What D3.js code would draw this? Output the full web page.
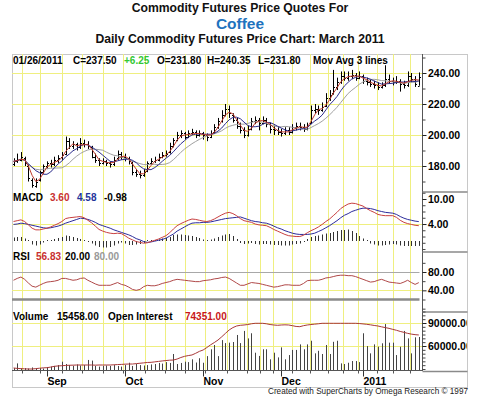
<!DOCTYPE html>
<html><head><meta charset="utf-8">
<script src="https://cdn.jsdelivr.net/npm/d3@7"></script>
<style>
body{margin:0;background:#fff}
svg{display:block}
text{font-family:Arial,"Liberation Sans",sans-serif}
</style>
</head><body>
<svg id="c" width="490" height="398"></svg>
<script>
// ---------- DATA ----------
const opens=[181,183,184,185,180,171,167,171,176,180,
182,181,184,186,188,196,193,194,192,195,
194,192,186,184,182,183,182,181,185,188,
186,185,182,176,175,174,177,182,183,184,
186,187,189,193,197,200,201,199,201,202,
200,201,200,199,202,205,209,213,217,213,
210,206,203,200,204,209,210,208,210,207,
204,203,202,201,203,202,205,206,205,204,
208,216,217,216,219,224,227,231,234,238,
237,238,239,237,238,235,234,233,232,231,
232,236,235,234,235,233,232,238,236,231.8];
const highs=[185,188,189,186,181,172,172,177,181,183,
184,186,187,189,199,198,196,195,198,197,
196,193,188,185,185,184,183,186,190,189,
188,186,183,178,177,178,183,185,186,188,
189,190,195,198,202,203,202,203,204,203,
203,202,201,203,207,211,216,220,219,214,
211,208,205,206,211,212,211,212,211,208,
206,205,204,205,205,207,208,208,207,208,
219,220,219,221,227,229,242,237,241,241,
241,242,240,241,239,237,236,235,234,234,
245,239,237,238,236,235,241,240,238,240.35];
const lows=[180,182,183,180,170,166,166,170,175,178,
179,180,182,184,187,191,191,190,191,192,
191,185,182,180,181,180,179,180,184,184,
183,181,174,173,172,173,176,181,182,183,
185,186,188,192,196,198,197,198,200,198,
199,197,196,198,201,204,208,212,211,208,
204,201,198,199,203,207,203,207,205,201,
200,200,199,200,200,201,203,203,202,203,
207,214,213,215,218,222,226,229,233,235,
235,236,235,236,233,232,231,230,229,230,
231,233,232,233,228,230,231,234,231,231.8];
const closes=[183,184,186,182,172,168,170,176,180,182,
181,184,185,187,196,193,194,192,195,194,
193,186,184,182,183,182,181,184,188,186,
185,183,176,175,174,176,182,183,184,186,
187,188,193,197,200,201,199,201,202,200,
201,200,199,201,205,209,213,217,214,210,
206,203,200,204,209,210,208,210,207,204,
203,202,201,203,202,205,206,205,204,206,
216,217,216,218,224,226,231,234,238,237,
238,239,237,238,235,234,233,232,231,232,
236,235,234,235,233,232,238,236,233,237.5];
const macd=[4.6,4.8,5.0,4.6,3.8,3.0,2.6,2.6,2.8,3.0,
3.3,3.7,4.1,4.6,5.3,5.5,5.6,5.7,5.8,5.5,
4.9,4.3,3.5,2.7,2.3,2.0,1.8,1.7,1.8,1.7,
1.2,0.6,0.2,-0.2,-0.4,-0.6,-0.5,-0.2,0.1,0.4,
0.8,1.2,1.9,2.8,3.6,4.1,4.5,4.9,5.2,5.1,
4.9,4.7,4.6,4.8,5.2,5.7,6.2,6.6,6.8,6.5,
6.0,5.3,4.8,4.6,4.4,4.0,3.8,3.7,3.6,3.2,
2.7,2.3,1.9,1.5,1.2,1.1,1.0,1.0,1.3,1.9,
2.4,2.8,3.3,3.9,4.6,5.2,6.0,6.8,7.7,8.3,
8.8,9.0,8.9,8.6,8.3,7.7,7.2,6.8,6.3,6.1,
6.0,6.0,6.0,5.6,4.9,4.4,4.1,3.9,3.7,3.6];
const signal=[3.9,4.0,4.2,4.1,3.9,3.7,3.5,3.3,3.1,3.0,
3.1,3.3,3.5,3.8,4.2,4.5,4.8,5.1,5.4,5.3,
5.1,4.8,4.4,3.9,3.6,3.3,3.0,2.6,2.3,2.0,
1.7,1.4,1.0,0.5,0.2,-0.2,-0.4,-0.3,-0.1,0.1,
0.3,0.6,1.1,1.6,2.3,2.8,3.3,3.8,4.2,4.3,
4.3,4.4,4.4,4.5,4.7,4.9,5.1,5.3,5.4,5.5,
5.6,5.7,5.4,5.1,4.8,4.6,4.5,4.3,4.2,3.9,
3.5,3.1,2.8,2.4,2.1,1.8,1.6,1.5,1.5,1.5,
1.6,1.8,2.2,2.6,3.1,3.6,4.2,4.8,5.5,6.1,
6.5,7.0,7.3,7.6,7.8,7.8,7.7,7.5,7.2,7.0,
6.8,6.7,6.6,6.3,5.8,5.4,5.1,4.9,4.7,4.58];
const rsi=[62,66,69,64,56,49,47,51,55,58,
59,60,62,66,66,64,62,63,66,67,
62,58,54,51,51,51,51,54,57,53,
51,47,42,40,42,48,51,50,50,52,
55,57,59,62,64,63,62,61,60,59,
59,61,62,63,65,66,68,69,66,61,
56,51,51,54,57,56,55,53,51,49,
47,48,50,52,52,51,51,51,55,61,
62,62,62,64,67,68,70,72,73,73,
72,72,70,67,64,61,58,59,62,64,
61,58,57,56,55,58,62,57,53,56.83];
const volume=[900,3100,700,900,700,1200,900,900,700,1400,
1600,1900,2300,3900,2800,2300,1900,2600,2100,2300,
4700,4400,1900,1600,1900,2100,1900,2300,1900,1600,
2300,3400,1900,2800,2300,2100,2300,2600,2800,3300,
3000,3700,3300,7500,2800,3300,3900,3700,5000,3500,
5500,3400,6500,9700,11700,6500,14000,12600,12800,13100,
16400,12600,18300,14800,17200,8100,6600,9700,9700,5000,
8100,5900,10600,5000,7000,9400,9400,12000,9700,12000,
13700,7800,9000,7500,11700,7500,13200,13700,3100,2800,
3400,4200,4200,3700,17200,11200,7800,12000,10900,12500,
21500,12800,12800,7000,10900,18300,14800,7800,15300,15458];
const openInterest=[31300,30800,30500,30200,30000,30000,30500,31000,31500,31700,
32500,33500,34000,34300,34600,34900,35000,35200,35200,35200,
35200,35200,35000,35200,35200,35200,35200,35500,35800,36000,
36300,36500,36500,37000,37500,38000,38500,38700,39300,39900,
40500,41000,41500,41700,43000,45000,46500,47500,48300,50500,
53000,54800,58000,61500,64500,67800,72000,76500,80900,84000,
86100,87000,87400,88000,89000,89600,89600,89600,89000,88000,
87400,87000,87400,87600,87400,86500,85500,85200,86500,87400,
88000,88500,89000,89600,89600,89600,89600,89600,89600,89600,
89600,89600,89600,89300,88800,88300,87600,86800,86100,85000,
84000,83000,81700,80500,79000,77800,76500,75500,74800,74351];

const monthLabels=["Sep","Oct","Nov","Dec","2011"];
const monthIdx=[9,30,51,72,94];
const gridIdx=[2.2,7.1,13,18.3,24.1,29.5,35.4,40.7,46.1,51.5,57.4,62.8,66.2,69.8,74.9,79.7,84.6,88.6,92.6,97.8,102.1,106.6];
const maLengths=[3,6,11];
const priceTicks=[180,200,220,240], priceMinor=[170,190,210,230,250];
const macdTicks=[4,10], macdMinor=[-2,-0.5,1,2.5,5.5,7,8.5,11.5];
const rsiTicks=[40,80], rsiMinor=[0,20,60,100];
const oiTicks=[60000,90000];

// ---------- SETUP ----------
const svg=d3.select("#c");
const FONT='Arial,"Liberation Sans",sans-serif';
const N=closes.length;
const x=d3.scaleLinear().domain([0,109]).range([13.5,418.8]);
const px=i=>Math.round(x(i))+0.5;
const yP=d3.scaleLinear().domain([180,240]).range([166,73]);
const yM=d3.scaleLinear().domain([0,10]).range([240.7,199]);
const yH=d3.scaleLinear().domain([0,1]).range([241,236]);
const yR=d3.scaleLinear().domain([20,80]).range([299.5,272]);
const yV=d3.scaleLinear().domain([0,28100]).range([370,310]);
const yOI=d3.scaleLinear().domain([60000,90000]).range([346,323]);
const L=12, R=422.5, T=54, B=370.5;
const GRID="#efef80";

// titles
svg.append("text").attr("x",240).attr("y",12).attr("text-anchor","middle")
  .attr("font-size",12.2).attr("font-weight","bold").attr("fill","#111").text("Commodity Futures Price Quotes For");
svg.append("text").attr("x",240).attr("y",28.5).attr("text-anchor","middle")
  .attr("font-size",15.5).attr("font-weight","bold").attr("fill","#1e73be").text("Coffee");
svg.append("text").attr("x",240).attr("y",42.7).attr("text-anchor","middle")
  .attr("font-size",12.2).attr("font-weight","bold").attr("fill","#111").text("Daily Commodity Futures Price Chart: March 2011");

// frame
svg.append("rect").attr("x",12.5).attr("y",54.5).attr("width",455).attr("height",333)
  .attr("fill","none").attr("stroke","#c8c8c8");

// grid
const grid=svg.append("g").attr("stroke",GRID).attr("stroke-width",1);
gridIdx.forEach(i=>grid.append("line").attr("x1",px(i)).attr("x2",px(i)).attr("y1",T).attr("y2",B));
const hl=y=>grid.append("line").attr("x1",L).attr("x2",R).attr("y1",Math.round(y)+0.5).attr("y2",Math.round(y)+0.5);
priceTicks.forEach(v=>hl(yP(v)));
hl(yM(4)); hl(yR(40));
oiTicks.forEach(v=>hl(yOI(v)));

// RSI reference lines
svg.append("line").attr("x1",L).attr("x2",px(N-1)).attr("y1",Math.round(yR(80))+0.5).attr("y2",Math.round(yR(80))+0.5)
  .attr("stroke","#a8a8a8").attr("stroke-width",1);
svg.append("line").attr("x1",L).attr("x2",px(N-1)).attr("y1",yR(20)).attr("y2",yR(20))
  .attr("stroke","#8a8a8a").attr("stroke-width",2.5);

// price bars
const bars=svg.append("g").attr("stroke","#000").attr("stroke-width",1);
closes.forEach((c,i)=>{
  const xx=px(i);
  bars.append("line").attr("x1",xx).attr("x2",xx).attr("y1",yP(highs[i])).attr("y2",yP(lows[i]));
  bars.append("line").attr("x1",xx-1.5).attr("x2",xx).attr("y1",Math.round(yP(opens[i]))+0.5).attr("y2",Math.round(yP(opens[i]))+0.5);
  bars.append("line").attr("x1",xx).attr("x2",xx+1.5).attr("y1",Math.round(yP(c))+0.5).attr("y2",Math.round(yP(c))+0.5);
});

// moving averages
function sma(n){return closes.map((c,i)=>d3.mean(closes.slice(Math.max(0,i-n+1),i+1)));}
const maColors=["#c0392b","#2c2c8c","#a0a0a0"];
[2,1,0].forEach(k=>{
  svg.append("path").attr("d",d3.line().x((d,i)=>x(i)).y(d=>yP(d))(sma(maLengths[k])))
    .attr("fill","none").attr("stroke",maColors[k]).attr("stroke-width",1);
});

// MACD
const hist=macd.map((m,i)=>m-signal[i]);
const hg=svg.append("g").attr("stroke","#333").attr("stroke-width",1);
hist.forEach((h,i)=>{
  let y0=yH(0), y1=yH(h);
  if(Math.abs(y1-y0)<1) y1=y0-1;
  hg.append("line").attr("x1",px(i)).attr("x2",px(i)).attr("y1",y0).attr("y2",y1);
});
svg.append("path").attr("d",d3.line().x((d,i)=>x(i)).y(d=>yM(d))(signal))
  .attr("fill","none").attr("stroke","#2c2c9c").attr("stroke-width",1);
svg.append("path").attr("d",d3.line().x((d,i)=>x(i)).y(d=>yM(d))(macd))
  .attr("fill","none").attr("stroke","#c84040").attr("stroke-width",1);

// RSI
svg.append("path").attr("d",d3.line().x((d,i)=>x(i)).y(d=>yR(d))(rsi))
  .attr("fill","none").attr("stroke","#b04848").attr("stroke-width",1);

// Volume + OI
const vg=svg.append("g").attr("stroke","#444").attr("stroke-width",1);
volume.forEach((v,i)=>vg.append("line").attr("x1",px(i)).attr("x2",px(i)).attr("y1",yV(0)).attr("y2",yV(v)));
svg.append("path").attr("d",d3.line().x((d,i)=>x(i)).y(d=>yOI(d))(openInterest))
  .attr("fill","none").attr("stroke","#a83838").attr("stroke-width",1);

// x axis
svg.append("line").attr("x1",L).attr("x2",R).attr("y1",B).attr("y2",B).attr("stroke","#555").attr("stroke-width",1.2);
const xMinor=svg.append("g").attr("transform",`translate(0,${B})`)
  .call(d3.axisBottom(x).tickValues(gridIdx).tickSize(3).tickFormat(""));
xMinor.select(".domain").remove();
xMinor.selectAll("line").attr("stroke","#555");
xMinor.selectAll(".tick").attr("transform",d=>`translate(${px(d)},0)`);
const xMaj=svg.append("g").attr("transform",`translate(0,${B})`)
  .call(d3.axisBottom(x).tickValues(monthIdx).tickSize(6).tickPadding(4).tickFormat((d,i)=>monthLabels[i]));
xMaj.select(".domain").remove();
xMaj.selectAll(".tick").attr("transform",d=>`translate(${px(d)},0)`);
xMaj.selectAll("line").attr("stroke","#333");
xMaj.selectAll("text").attr("text-anchor","start").attr("x",0).attr("dy","0").attr("y",14.5)
  .attr("font-family",FONT).attr("font-size",10.5).attr("font-weight","bold").attr("fill","#000");

// right axis column
svg.append("line").attr("x1",R).attr("x2",R).attr("y1",T).attr("y2",371).attr("stroke","#555").attr("stroke-width",1);
[192,252,312,371.5].forEach(y=>svg.append("line").attr("x1",R).attr("x2",467.5).attr("y1",y).attr("y2",y)
  .attr("stroke","#8a8a8a").attr("stroke-width",1.5));

svg.append("clipPath").attr("id","clipR").append("rect").attr("x",0).attr("y",0).attr("width",467).attr("height",398);
function rightAxis(scale,major,minor,fmt){
  const outer=svg.append("g").attr("clip-path","url(#clipR)");
  const g=outer.append("g").attr("transform",`translate(${R},0)`);
  const gm=g.append("g").call(d3.axisRight(scale).tickValues(minor).tickSize(3).tickFormat(""));
  gm.select(".domain").remove(); gm.selectAll("line").attr("stroke","#444");
  const ga=g.append("g").call(d3.axisRight(scale).tickValues(major).tickSize(4).tickPadding(1.5).tickFormat(fmt));
  ga.select(".domain").remove(); ga.selectAll("line").attr("stroke","#222");
  ga.selectAll("text").attr("font-family",FONT).attr("font-size",10.5).attr("font-weight","bold").attr("fill","#000");
}
rightAxis(yP,priceTicks,priceMinor,d3.format(".2f"));
rightAxis(yM,macdTicks,macdMinor,d3.format(".2f"));
rightAxis(yR,rsiTicks,rsiMinor,d3.format(".2f"));
const oiMinor=[]; for(let v=30000; v<=105000; v+=5000) if(v!==60000&&v!==90000) oiMinor.push(v);
rightAxis(yOI,oiTicks,oiMinor,d3.format(".2f"));

// info labels
function label(y,parts){
  parts.forEach(p=>svg.append("text").attr("x",p[0]).attr("y",y).attr("font-size",10).attr("font-weight","bold")
    .attr("fill",p[2]||"#000").text(p[1]));
}
label(64,[[13,"01/26/2011"],[73,"C=237.50"],[124,"+6.25","#33c833"],[157,"O=231.80"],[207,"H=240.35"],[258,"L=231.80"],[313,"Mov Avg 3 lines"]]);
label(201,[[13,"MACD"],[50,"3.60","#c83030"],[77,"4.58","#23349a"],[104,"-0.98"]]);
label(260,[[13,"RSI"],[36,"56.83","#c83030"],[65,"20.00"],[94,"80.00","#999"]]);
label(320,[[13,"Volume"],[57,"15458.00"],[108,"Open Interest"],[185,"74351.00","#c81818"]]);

// credit
svg.append("text").attr("x",468).attr("y",394).attr("text-anchor","end").attr("font-size",9)
  .attr("fill","#222").attr("textLength",200).attr("lengthAdjust","spacingAndGlyphs")
  .text("Created with SuperCharts by Omega Research \u00A9 1997");
</script>
</body></html>
